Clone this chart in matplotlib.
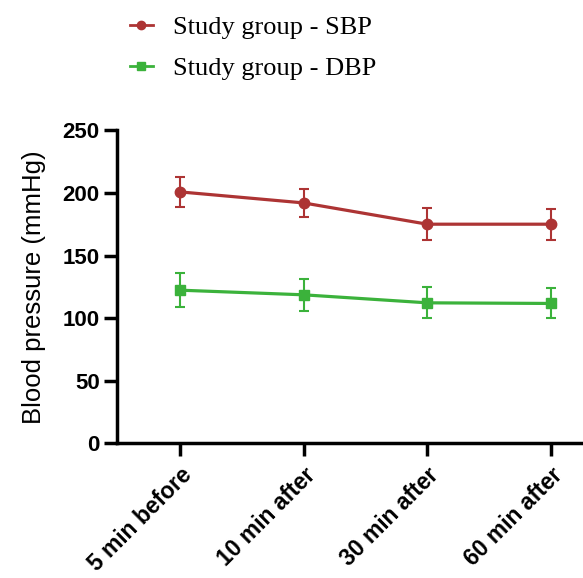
import numpy as np
import matplotlib.pyplot as plt
from matplotlib.legend_handler import HandlerLine2D
from matplotlib.lines import Line2D

# time points and readings (mmHg)
times = ["5 min before", "10 min after", "30 min after", "60 min after"]
sbp_mean = [200.8, 192.0, 175.0, 175.0]
sbp_err = [11.7, 11.0, 13.0, 12.3]
dbp_mean = [122.3, 118.6, 112.2, 111.7]
dbp_err = [13.6, 12.8, 12.5, 12.0]

red = "#AD3434"
green = "#3BB23B"


# legend marker sits near right end of the handle line
class RightMarker(HandlerLine2D):
    def get_xdata(self, legend, xdescent, ydescent, width, height, fontsize):
        xd = np.array([-xdescent, -xdescent + width])
        return xd, np.array([-xdescent + width * 0.8])


fig = plt.figure(figsize=(5.83, 5.78), dpi=100)
ax = fig.add_axes([117/583, 134.7/578, 466/583, 313/578])

x = np.arange(len(times))
ax.errorbar(x, sbp_mean, yerr=sbp_err, color=red, lw=2.3, marker="o", ms=7.5,
            elinewidth=1.5, capsize=3.5, capthick=1.5)
ax.errorbar(x, dbp_mean, yerr=dbp_err, color=green, lw=2.3, marker="s", ms=7.5,
            elinewidth=1.5, capsize=3.5, capthick=1.5)

ax.set_ylim(0, 250)
ax.set_xlim(-0.51, 3.26)
ax.set_yticks([0, 50, 100, 150, 200, 250])
ax.set_xticks(x)
ax.set_xticklabels(times, rotation=45, ha="right", rotation_mode="anchor")

for s in ["top", "right"]:
    ax.spines[s].set_visible(False)
for s in ["left", "bottom"]:
    ax.spines[s].set_linewidth(2.5)
ax.tick_params(width=2.5, length=9.5, labelsize=16, pad=3)
ax.tick_params(axis="x", labelsize=16.5, pad=5)
for lab in ax.get_xticklabels() + ax.get_yticklabels():
    lab.set_fontweight("bold")
    lab.set_family("Liberation Sans")

ax.set_ylabel("Blood pressure (mmHg)", fontsize=18.5, family="Liberation Sans", labelpad=12)

h1 = Line2D([], [], color=red, lw=2, marker="o", ms=6)
h2 = Line2D([], [], color=green, lw=2, marker="s", ms=6)
fig.legend([h1, h2], ["Study group - SBP", "Study group - DBP"],
           loc="upper left", bbox_to_anchor=(119/583, 1 - 5/578), frameon=False,
           prop={"family": "Liberation Serif", "size": 19},
           handlelength=0.9, labelspacing=0.68, handletextpad=0.75,
           borderaxespad=0, handler_map={Line2D: RightMarker()})

fig.savefig("out.png", dpi=100)
